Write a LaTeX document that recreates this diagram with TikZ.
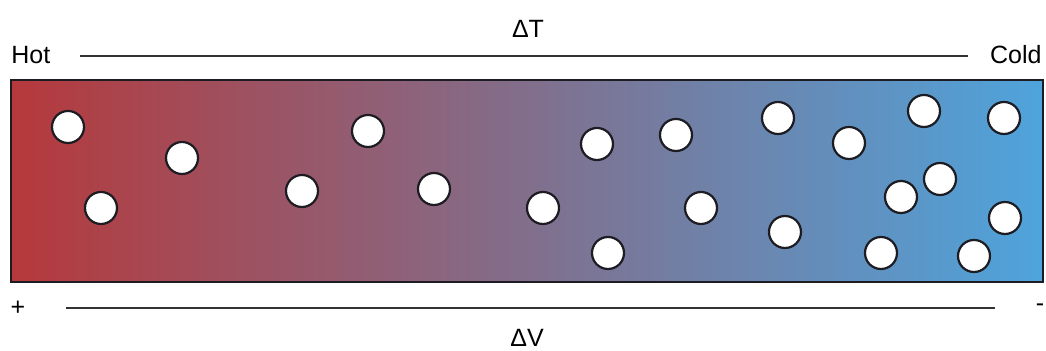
\documentclass[tikz,border=0pt]{standalone}
\usepackage{fontspec}
\setmainfont{Liberation Sans}
\usepackage{xcolor}
\usetikzlibrary{positioning}

\definecolor{hotred}{RGB}{181,57,60}
\definecolor{midpurple}{RGB}{119,105,140}
\definecolor{coldblue}{RGB}{78,164,220}
\definecolor{rim}{RGB}{28,28,34}

\begin{document}
\begin{tikzpicture}[
            x=0.5pt, y=-0.5pt,
            label/.style={font=\fontsize{12.5}{14}\selectfont, inner sep=0pt},
            rule/.style={draw=black!80, line width=1pt},
            tube/.style={rectangle, draw=rim, line width=1.3pt, left color=hotred, middle color=midpurple, right color=coldblue, minimum width=516pt, minimum height=101pt, inner sep=0pt},
            particle/.style={circle, draw=rim, line width=1.1pt, fill=white, minimum size=16pt, inner sep=0pt}
        ]
            \useasboundingbox (0,0) rectangle (1046,351);

            % Bar
            \node[tube] (tube) at (527,181) {};

            % Particles
            \foreach \px/\py [count=\k] in {68/127, 101/208, 182/158, 302/191, 368/131, 434/189,
                543/208, 597/144, 608/253, 676/135, 701/208, 778/118, 785/232, 849/143,
                881/253, 901/197, 924/111, 940/179, 974/256, 1004/118, 1005/218}
                \node[particle] (p\k) at (\px,\py) {};

            % Labels
            \node[label, anchor=west] (hot) at (11,55) {Hot};
            \node[label, anchor=east] (cold) at (1042,55) {Cold};
            \node[label] (dT) at (528,29) {ΔT};
            \node[label] (plus) at (18,308) {+};
            \node[label] (minus) at (1040,308) {-};
            \node[label] (dV) at (527,338) {ΔV};

            % Rules
            \coordinate (tl) at (80,56);
            \coordinate (tr) at (968,56);
            \coordinate (bl) at (66,308);
            \coordinate (br) at (995,308);
            \draw[rule] (tl) -- (tr);
            \draw[rule] (bl) -- (br);

        \end{tikzpicture}
\end{document}
